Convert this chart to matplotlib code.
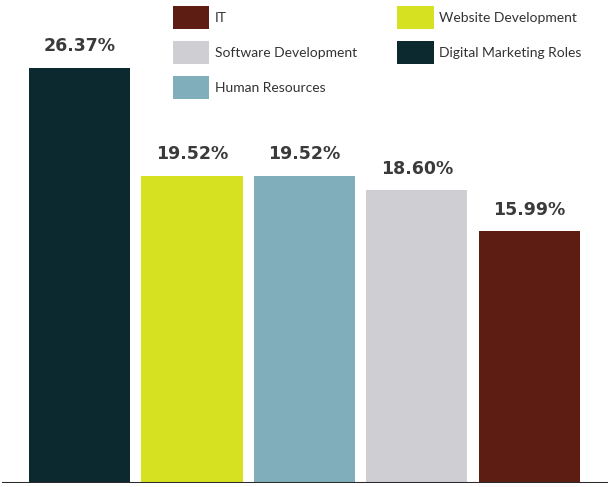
import matplotlib.pyplot as plt
from matplotlib.patches import Patch

# share of roles, largest first
roles = ["Digital Marketing Roles", "Website Development", "Human Resources",
         "Software Development", "IT"]
shares = [26.37, 19.52, 19.52, 18.60, 15.99]
colors = ["#0d2930", "#d6e221", "#80afbb", "#cfced3", "#5e1d13"]

# legend runs in a different order than the bars
legend_order = ["IT", "Software Development", "Human Resources",
                "Website Development", "Digital Marketing Roles"]

fig = plt.figure(figsize=(6.08, 4.87), dpi=100)
ax = fig.add_axes([2 / 608, 4 / 487, 606 / 608, 483 / 487])

x = list(range(len(roles)))
bars = ax.bar(x, shares, width=0.898, color=colors, zorder=2)

for b, v in zip(bars, shares):
    ax.text(b.get_x() + b.get_width() / 2, v + 0.8, f"{v:.2f}%",
            ha="center", va="bottom", fontsize=12.5, fontweight="bold",
            color="#3a3a3a", family="DejaVu Sans")

ax.set_xlim(-0.689, 4.698)
ax.set_ylim(0, 30.69)
ax.axhline(0, color="#2a2a2a", lw=2.2, zorder=3)
for s in ax.spines.values():
    s.set_visible(False)
ax.set_xticks([])
ax.set_yticks([])

handles = [Patch(facecolor=colors[roles.index(r)], edgecolor="none") for r in legend_order]
fig.legend(handles, legend_order, ncol=2, loc="upper left",
           bbox_to_anchor=(160 / 608, 1 + 6 / 487), frameon=False,
           prop={"family": "Lato", "size": 10}, labelcolor="#333333",
           handlelength=2.65, handleheight=2.17, handletextpad=0.4,
           labelspacing=0.86, columnspacing=2.87, borderpad=0.4)

fig.savefig("out.png", dpi=100)
